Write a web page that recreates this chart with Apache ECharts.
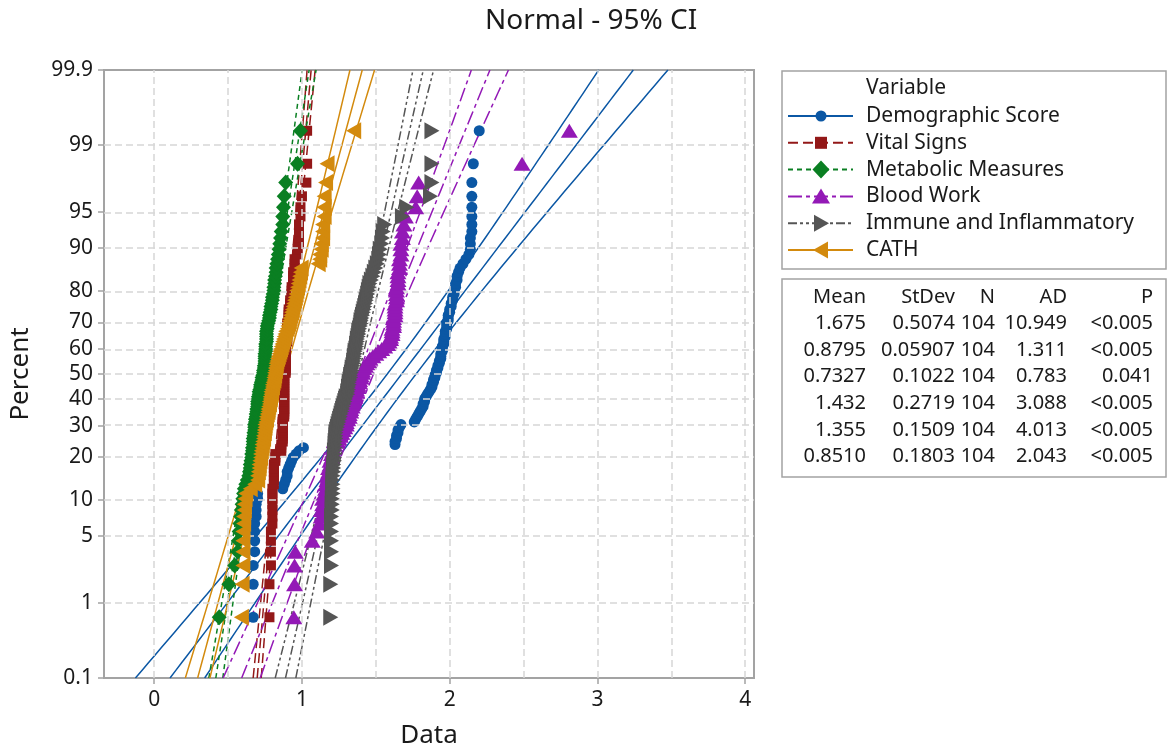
<!DOCTYPE html>
<html>
<head>
<meta charset="utf-8">
<script src="https://cdn.jsdelivr.net/npm/echarts@6/dist/echarts.min.js"></script>
<style>html,body{margin:0;padding:0;background:#fff}#chart{width:1168px;height:754px}</style>
</head>
<body>
<div id="chart"></div>
<script>
const variableNames = ['Demographic Score', 'Vital Signs', 'Metabolic Measures', 'Blood Work', 'Immune and Inflammatory', 'CATH'];

const demographicScore = [0.67,0.67,0.67,0.68,0.68,0.68,0.68,0.69,0.69,0.69,0.70,0.70,
  0.87,0.88,0.89,0.90,0.90,0.91,0.92,0.93,0.94,0.96,0.98,1.01,
  1.63,1.63,1.64,1.64,1.65,1.65,1.66,1.67,
  1.76,1.77,1.78,1.79,1.80,
  1.81,1.82,1.82,1.83,1.83,1.84,1.85,1.86,1.87,1.88,
  1.88,1.89,1.89,1.90,1.90,1.91,1.91,1.92,1.92,1.93,1.93,1.94,1.94,1.94,1.95,
  1.95,1.95,1.96,1.96,1.96,1.97,1.97,1.97,1.98,1.98,1.98,1.99,1.99,1.99,2.00,
  2.00,2.01,2.01,2.02,2.02,2.03,2.03,2.04,2.04,2.05,2.05,2.06,
  2.07,2.09,2.11,2.13,
  2.14,2.14,2.14,2.15,2.15,2.15,2.15,
  2.15,2.15,2.16,2.20];

const vitalSigns = [0.78,0.78,0.79,
  0.79,0.79,0.79,0.80,0.80,0.80,0.80,0.80,0.80,0.80,0.81,0.81,0.81,0.81,0.81,0.81,0.82,0.82,0.82,
  0.86,0.86,0.86,0.87,0.87,0.87,0.87,0.87,0.87,0.87,0.87,0.87,
  0.88,0.88,0.88,0.88,0.88,0.88,0.88,0.88,0.88,0.88,0.88,0.88,0.88,0.88,0.88,0.88,0.88,0.88,
  0.89,0.89,0.89,0.89,0.89,0.89,0.89,0.89,0.89,0.89,0.89,0.89,0.89,
  0.90,0.90,0.90,0.90,0.90,0.90,0.90,0.90,
  0.91,0.91,0.91,0.91,0.91,
  0.92,0.92,0.92,0.93,0.93,0.93,0.93,0.94,0.94,0.94,0.94,0.95,0.95,0.95,
  0.97,0.97,0.98,0.98,0.98,0.98,0.99,0.99,1.00,
  1.03,1.035,1.035];

const metabolicMeasures = [0.44,0.505,0.545,0.565,0.57,0.575,0.58,0.585,0.59,0.595,0.60,0.605,0.61,0.62,0.63,
  0.64,0.645,0.65,0.65,0.655,0.66,0.66,0.665,0.665,0.67,0.67,0.67,0.675,0.675,0.68,0.68,
  0.68,0.685,0.685,0.69,0.69,0.695,0.695,0.70,0.70,0.70,0.705,0.705,0.71,
  0.71,0.715,0.72,0.72,0.725,0.73,0.73,0.735,0.74,0.74,0.745,0.745,0.75,0.75,
  0.75,0.75,0.75,0.755,0.755,0.755,0.755,0.76,0.76,0.76,0.76,0.76,0.765,
  0.765,0.77,0.775,0.78,0.78,0.785,0.79,0.79,0.795,0.80,0.80,0.805,0.81,
  0.81,0.815,0.815,0.82,0.825,0.825,0.83,0.835,
  0.84,0.845,0.85,0.855,0.86,0.87,
  0.87,0.875,0.88,
  0.89,0.97,0.99];

const bloodWork = [0.945,0.95,0.95,0.955,
  1.07,1.10,1.12,
  1.13,1.13,1.14,1.14,1.15,
  1.16,1.16,1.17,1.17,1.18,1.18,1.19,1.19,1.20,1.20,1.21,1.21,1.22,
  1.24,1.25,1.26,1.27,1.28,1.29,1.30,1.30,1.31,1.32,1.32,1.33,1.33,1.34,1.34,
  1.35,1.35,1.36,1.36,1.37,1.37,1.38,1.38,1.39,1.39,1.40,1.40,1.41,1.41,1.42,
  1.43,1.44,1.45,1.46,1.48,1.50,1.52,1.54,1.56,1.58,
  1.59,1.60,1.60,1.61,1.61,1.61,1.62,1.62,1.62,1.62,1.63,1.63,1.63,1.63,1.63,1.64,1.64,
  1.64,1.64,1.64,1.65,1.65,1.65,1.65,1.66,1.66,1.66,1.67,1.67,1.67,1.68,1.68,1.69,
  1.70,1.77,1.78,1.79,
  2.49,2.81];

const immuneInflammatory = [1.195,1.195,1.20,1.20,1.20,1.20,1.20,1.20,1.205,1.205,
  1.205,1.21,1.21,1.21,1.21,1.21,1.215,1.215,1.215,1.22,1.22,1.22,1.22,1.225,1.225,1.225,1.23,1.23,1.23,1.235,
  1.24,1.245,1.25,1.255,1.26,1.265,1.27,1.275,1.28,1.285,1.29,1.295,1.30,1.31,
  1.31,1.315,1.315,1.32,1.32,1.325,1.33,1.33,1.335,1.34,1.34,1.345,1.35,1.35,
  1.355,1.355,1.36,1.36,1.365,1.37,1.37,1.375,1.375,1.38,1.385,1.385,1.39,
  1.395,1.40,1.40,1.405,1.41,1.415,1.42,1.425,1.43,1.435,1.44,1.445,1.45,
  1.455,1.46,1.47,1.48,1.49,1.50,1.51,1.52,
  1.525,1.53,1.54,1.545,1.55,1.56,
  1.68,1.71,
  1.87,1.88,1.88,1.88];

const cath = [0.59,0.595,0.60,0.60,0.60,0.60,0.605,0.605,0.61,0.61,0.615,0.62,
  0.65,0.68,0.70,
  0.70,0.705,0.71,0.71,0.715,0.72,0.72,0.725,0.73,0.73,0.735,0.74,0.74,0.745,0.745,0.75,
  0.75,0.755,0.76,0.76,0.765,0.77,0.77,0.775,0.78,0.78,0.785,0.785,0.79,
  0.79,0.795,0.80,0.80,0.805,0.81,0.81,0.815,0.815,0.82,0.82,0.825,0.825,0.83,
  0.835,0.84,0.845,0.85,0.855,0.86,0.865,0.87,0.875,0.88,0.885,0.89,0.90,
  0.905,0.91,0.915,0.92,0.925,0.93,0.935,0.94,0.945,0.95,0.955,0.96,0.965,0.97,0.975,0.98,0.985,0.99,0.995,
  1.11,1.12,1.12,1.13,1.13,1.14,1.14,1.14,1.15,1.15,1.15,1.16,1.17,
  1.35];

// summary table (as printed)
const statMean = [1.675, 0.8795, 0.7327, 1.432, 1.355, 0.8510];
const statMeanText = ['1.675', '0.8795', '0.7327', '1.432', '1.355', '0.8510'];
const statStDev = [0.5074, 0.05907, 0.1022, 0.2719, 0.1509, 0.1803];
const statStDevText = ['0.5074', '0.05907', '0.1022', '0.2719', '0.1509', '0.1803'];
const statN = [104, 104, 104, 104, 104, 104];
const statAD = ['10.949', '1.311', '0.783', '3.088', '4.013', '2.043'];
const statP = ['<0.005', '<0.005', '0.041', '<0.005', '<0.005', '<0.005'];

// axis ticks
const percentTicks = [0.1, 1, 5, 10, 20, 30, 40, 50, 60, 70, 80, 90, 95, 99, 99.9];
const percentLabels = ['0.1', '1', '5', '10', '20', '30', '40', '50', '60', '70', '80', '90', '95', '99', '99.9'];
const xLabelTicks = [0, 1, 2, 3, 4];
const xGridValues = [0, 0.5, 1, 1.5, 2, 2.5, 3, 3.5, 4];

// ---------------- helpers ----------------
function normInv(p) {
  const a = [-3.969683028665376e+01, 2.209460984245205e+02, -2.759285104469687e+02, 1.383577518672690e+02, -3.066479806614716e+01, 2.506628277459239e+00];
  const b = [-5.447609879822406e+01, 1.615858368580409e+02, -1.556989798598866e+02, 6.680131188771972e+01, -1.328068155288572e+01];
  const c = [-7.784894002430293e-03, -3.223964580411365e-01, -2.400758277161838e+00, -2.549732539343734e+00, 4.374664141464968e+00, 2.938163982698783e+00];
  const d = [7.784695709041462e-03, 3.224671290700398e-01, 2.445134137142996e+00, 3.754408661907416e+00];
  const pl = 0.02425, ph = 1 - pl;
  let q, r;
  if (p < pl) {
    q = Math.sqrt(-2 * Math.log(p));
    return (((((c[0]*q+c[1])*q+c[2])*q+c[3])*q+c[4])*q+c[5]) / ((((d[0]*q+d[1])*q+d[2])*q+d[3])*q+1);
  }
  if (p <= ph) {
    q = p - 0.5; r = q * q;
    return (((((a[0]*r+a[1])*r+a[2])*r+a[3])*r+a[4])*r+a[5])*q / (((((b[0]*r+b[1])*r+b[2])*r+b[3])*r+b[4])*r+1);
  }
  q = Math.sqrt(-2 * Math.log(1 - p));
  return -(((((c[0]*q+c[1])*q+c[2])*q+c[3])*q+c[4])*q+c[5]) / ((((d[0]*q+d[1])*q+d[2])*q+d[3])*q+1);
}

const zTicks = percentTicks.map(p => normInv(p / 100));
const zMin = zTicks[0], zMax = zTicks[zTicks.length - 1];

const allData = [demographicScore, vitalSigns, metabolicMeasures, bloodWork, immuneInflammatory, cath];
const colors = ['#0B57A4', '#931818', '#0A7F22', '#9319B6', '#555555', '#D38A0D'];
const dashes = ['solid', [10, 5], [5, 4], [14, 4, 4, 4], [9, 3, 3, 3, 3, 3], 'solid'];
const symbols = ['circle', 'rect', 'diamond', 'triangle', 'path://M0,0L12,6L0,12Z', 'path://M12,0L0,6L12,12Z'];
const symbolSizes = [11, 10, [15, 16], [17, 14], [15, 17], [15, 17]];

// probability-plot positions (median ranks)
function plotPoints(values) {
  const n = values.length;
  return values.map((v, i) => [v, normInv((i + 1 - 0.3) / (n + 0.4))]);
}
// fitted line and 95% CI from the printed mean / stdev
function fitLines(mean, sd, n) {
  const fit = [], lo = [], hi = [];
  const steps = 80;
  for (let k = 0; k <= steps; k++) {
    const z = zMin + (zMax - zMin) * k / steps;
    const x = mean + z * sd;
    const se = sd * Math.sqrt((1 + z * z / 2) / n);
    fit.push([x, z]); lo.push([x - 1.959964 * se, z]); hi.push([x + 1.959964 * se, z]);
  }
  return [fit, lo, hi];
}

const FONT = 'Noto Sans';
const series = [];

// grid lines
series.push({
  type: 'line', name: 'grid', data: [], silent: true, z: 1,
  markLine: {
    silent: true, symbol: ['none', 'none'], label: { show: false },
    lineStyle: { color: '#d6d6d6', type: [7, 4], width: 1.5 },
    emphasis: { disabled: true },
    data: xGridValues.map(v => ({ xAxis: v })).concat(zTicks.slice(1, -1).map(z => ({ yAxis: z })))
  }
});

allData.forEach((vals, k) => {
  const lines = fitLines(statMean[k], statStDev[k], statN[k]);
  lines.forEach((ln, j) => {
    series.push({
      type: 'line', name: variableNames[k] + (j === 0 ? ' fit' : (j === 1 ? ' lower CI' : ' upper CI')),
      data: ln, showSymbol: false, symbol: 'none', smooth: false, clip: true, silent: true, z: 2,
      lineStyle: { color: colors[k], width: 1.5, type: dashes[k] }
    });
  });
});
allData.forEach((vals, k) => {
  series.push({
    type: 'scatter', name: variableNames[k], data: plotPoints(vals), z: 3 + k,
    symbol: symbols[k], symbolSize: symbolSizes[k],
    itemStyle: { color: colors[k], opacity: 1 }
  });
});

// ---------------- legend + table as graphics ----------------
const graphics = [];
const TXT = '#1a1a1a';
graphics.push({ type: 'rect', shape: { x: 782, y: 71, width: 384, height: 198 }, style: { fill: 'none', stroke: '#a3a3a3', lineWidth: 1.5 }, silent: true });
graphics.push({ type: 'text', x: 866, y: 88, style: { text: 'Variable', font: '21px "' + FONT + '"', fill: TXT, verticalAlign: 'middle' }, silent: true });
function legendSymbol(k, cx, cy) {
  const fill = colors[k];
  switch (k) {
    case 0: return { type: 'circle', shape: { cx: cx, cy: cy, r: 5.5 }, style: { fill } };
    case 1: return { type: 'rect', shape: { x: cx - 6, y: cy - 6, width: 12, height: 12 }, style: { fill } };
    case 2: return { type: 'polygon', shape: { points: [[cx, cy - 9], [cx + 8.5, cy], [cx, cy + 9], [cx - 8.5, cy]] }, style: { fill } };
    case 3: return { type: 'polygon', shape: { points: [[cx, cy - 8], [cx + 9, cy + 7], [cx - 9, cy + 7]] }, style: { fill } };
    case 4: return { type: 'polygon', shape: { points: [[cx - 7, cy - 8.5], [cx + 8, cy], [cx - 7, cy + 8.5]] }, style: { fill } };
    default: return { type: 'polygon', shape: { points: [[cx + 7, cy - 8.5], [cx - 8, cy], [cx + 7, cy + 8.5]] }, style: { fill } };
  }
}
variableNames.forEach((name, k) => {
  const y = 116 + k * 26.8;
  const dash = dashes[k] === 'solid' ? null : dashes[k];
  graphics.push({ type: 'line', shape: { x1: 788, y1: y, x2: 853, y2: y }, style: { stroke: colors[k], lineWidth: 2, lineDash: dash }, silent: true });
  const s = legendSymbol(k, 821, y); s.silent = true; graphics.push(s);
  graphics.push({ type: 'text', x: 866, y: y, style: { text: name, font: '21px "' + FONT + '"', fill: TXT, verticalAlign: 'middle' }, silent: true });
});
graphics.push({ type: 'rect', shape: { x: 782, y: 279, width: 384, height: 198 }, style: { fill: 'none', stroke: '#a3a3a3', lineWidth: 1.5 }, silent: true });
const colRight = [866, 955, 995, 1067, 1153];
const headers = ['Mean', 'StDev', 'N', 'AD', 'P'];
headers.forEach((h, c) => {
  graphics.push({ type: 'text', x: colRight[c], y: 297, style: { text: h, font: '20px "' + FONT + '"', fill: TXT, align: 'right', verticalAlign: 'middle' }, silent: true });
});
for (let r = 0; r < 6; r++) {
  const y = 323.5 + r * 26.6;
  const cells = [statMeanText[r], statStDevText[r], String(statN[r]), statAD[r], statP[r]];
  cells.forEach((t, c) => {
    graphics.push({ type: 'text', x: colRight[c], y: y, style: { text: t, font: '20px "' + FONT + '"', fill: TXT, align: 'right', verticalAlign: 'middle' }, silent: true });
  });
}

// ---------------- chart ----------------
const chart = echarts.init(document.getElementById('chart'), null, { renderer: 'canvas' });
chart.setOption({
  animation: false,
  backgroundColor: '#ffffff',
  textStyle: { fontFamily: FONT },
  title: { text: 'Normal - 95% CI', left: 480, top: 2, textStyle: { fontSize: 28, fontWeight: 'normal', color: TXT, fontFamily: FONT } },
  grid: { left: 103, right: 414, top: 70, bottom: 73, show: true, borderColor: '#a3a3a3', borderWidth: 2, backgroundColor: 'transparent' },
  xAxis: {
    type: 'value', min: -0.34, max: 4.06,
    name: 'Data', nameLocation: 'middle', nameGap: 45,
    nameTextStyle: { fontSize: 26, color: TXT, fontFamily: FONT },
    axisLine: { show: true, onZero: false, lineStyle: { color: '#a3a3a3', width: 2 } },
    axisTick: { show: true, customValues: xLabelTicks, length: 6, lineStyle: { color: '#a3a3a3', width: 1.5 } },
    axisLabel: { customValues: xLabelTicks, fontSize: 21, color: TXT, margin: 12, fontFamily: FONT },
    splitLine: { show: false }
  },
  yAxis: {
    type: 'value', min: zMin, max: zMax,
    name: 'Percent', nameLocation: 'middle', nameGap: 70, nameRotate: 90,
    nameTextStyle: { fontSize: 26, color: TXT, fontFamily: FONT },
    axisLine: { show: true, onZero: false, lineStyle: { color: '#a3a3a3', width: 2 } },
    axisTick: { show: true, customValues: zTicks, length: 6, lineStyle: { color: '#a3a3a3', width: 1.5 } },
    axisLabel: {
      customValues: zTicks, fontSize: 21, color: TXT, margin: 11, fontFamily: FONT,
      formatter: function (v) {
        for (let i = 0; i < zTicks.length; i++) { if (Math.abs(zTicks[i] - v) < 1e-6) return percentLabels[i]; }
        return '';
      }
    },
    splitLine: { show: false }
  },
  series: series,
  graphic: graphics
});
</script>
</body>
</html>
